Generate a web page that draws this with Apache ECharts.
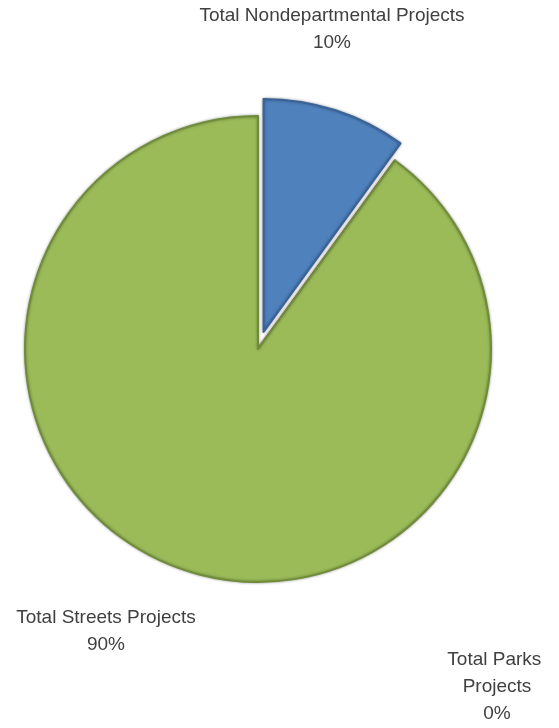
<!DOCTYPE html>
<html>
<head>
<meta charset="utf-8">
<script src="https://cdn.jsdelivr.net/npm/echarts@6/dist/echarts.min.js"></script>
<style>
  html, body { margin: 0; padding: 0; background: #ffffff; }
  #chart { width: 559px; height: 728px; }
</style>
</head>
<body>
<div id="chart"></div>
<script>
// Share of project budget by department (percent)
const categories = ['Total Nondepartmental Projects', 'Total Parks Projects', 'Total Streets Projects'];
const shares = [10, 0, 90];
const fillColors = ['#4F81BD', '#C0504D', '#9BBB59'];
const edgeColors = ['#3A6399', '#8C3836', '#6F8C38'];
const explodedIndex = 0;   // slice pulled out from the pie

// Where each slice's label sits (centre of the text block)
const labelSpots = [
  { x: 332, y: 29 },
  { x: 497, y: 687 },
  { x: 106, y: 631 }
];

const pieCenter = [258, 349];
const pieRadius = 233;
const explodeDist = 18;

// Direction of the exploded slice's bisector (clockwise from 12 o'clock)
const total = shares.reduce((a, b) => a + b, 0);
const before = shares.slice(0, explodedIndex).reduce((a, b) => a + b, 0);
const midAngle = (before + shares[explodedIndex] / 2) / total * 2 * Math.PI;
const explodedCenter = [
  pieCenter[0] + Math.sin(midAngle) * explodeDist,
  pieCenter[1] - Math.cos(midAngle) * explodeDist
];

const chart = echarts.init(document.getElementById('chart'));

function buildData(visibleFn) {
  return categories.map((name, i) => {
    const on = visibleFn(i);
    return {
      name: name,
      value: shares[i],
      itemStyle: on ? {
        color: fillColors[i],
        borderColor: edgeColors[i],
        borderWidth: 2,
        shadowBlur: 3,
        shadowColor: 'rgba(0,0,0,0.35)'
      } : {
        color: 'rgba(0,0,0,0)',
        borderWidth: 0,
        shadowBlur: 0
      },
      label: i === 1 ? { width: 110, overflow: 'break' } : {}
    };
  });
}

const common = {
  type: 'pie',
  radius: [0, pieRadius],
  startAngle: 90,
  clockwise: true,
  silent: true,
  avoidLabelOverlap: false,
  emphasis: { disabled: true },
  labelLine: { show: false }
};

chart.setOption({
  animation: false,
  series: [
    // slices that stay in place
    Object.assign({}, common, {
      center: pieCenter,
      data: buildData(i => i !== explodedIndex),
      label: { show: false }
    }),
    // the pulled-out slice, plus every label
    Object.assign({}, common, {
      center: explodedCenter,
      data: buildData(i => i === explodedIndex),
      label: {
        show: true,
        position: 'outside',
        color: '#404040',
        fontFamily: 'Liberation Sans, Arial, sans-serif',
        fontSize: 19,
        lineHeight: 27,
        align: 'center',
        formatter: p => p.name + '\n' + Math.round(p.percent) + '%'
      },
      labelLayout: p => ({
        x: labelSpots[p.dataIndex].x,
        y: labelSpots[p.dataIndex].y,
        align: 'center',
        verticalAlign: 'middle'
      })
    })
  ]
});
</script>
</body>
</html>
